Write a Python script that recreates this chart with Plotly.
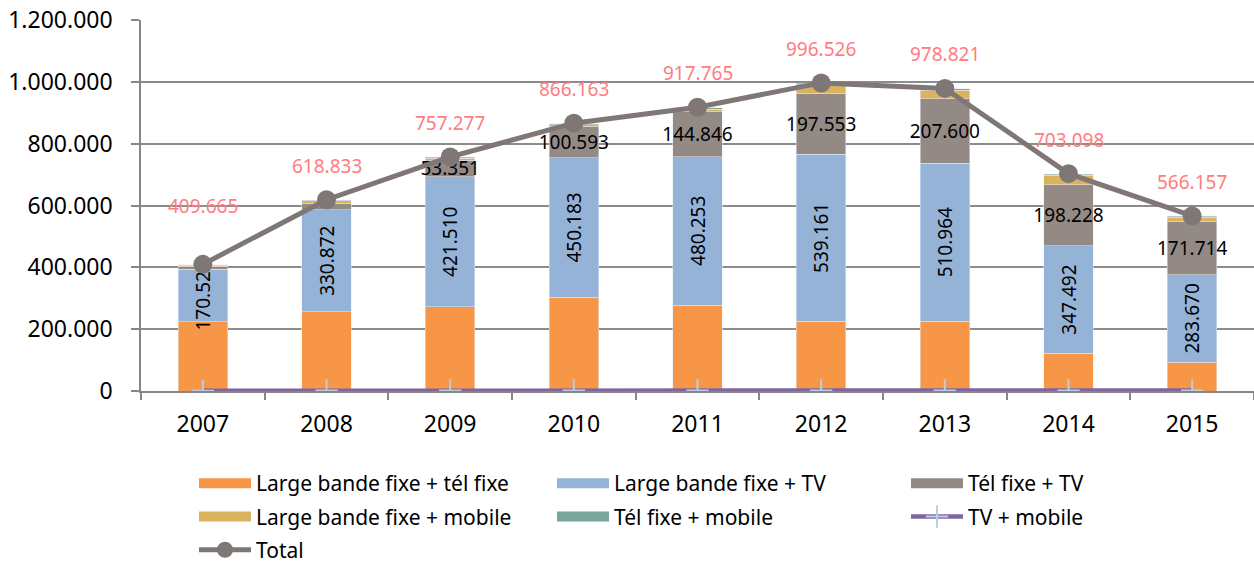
import plotly.graph_objects as go

# Years and stacked series (number of subscriptions per bundle)
years = ["2007", "2008", "2009", "2010", "2011", "2012", "2013", "2014", "2015"]
bb_tel = [224000, 256000, 272000, 304000, 278000, 226000, 226000, 122000, 93000]
bb_tv = [170527, 330872, 421510, 450183, 480253, 539161, 510964, 347492, 283670]
tel_tv = [8000, 19961, 53351, 100593, 144846, 197553, 207600, 198228, 171714]
bb_mobile = [4500, 8000, 6000, 6500, 8000, 28500, 29000, 30000, 14000]
tel_mobile = [1600, 2500, 2900, 3400, 5000, 3700, 3600, 3800, 2200]
tv_mobile = [1000, 1500, 1500, 1500, 1600, 1600, 1600, 1600, 1500]
total = [409665, 618833, 757277, 866163, 917765, 996526, 978821, 703098, 566157]

# Only the larger "Tél fixe + TV" segments carry a label
tel_tv_shown = [False, False, True, True, True, True, True, True, True]


def fmt(v):
    return f"{v:,}".replace(",", ".")


FONT = "Noto Sans"
C_ORANGE = "#F79646"
C_BLUE = "#95B3D7"
C_GREY = "#948A85"
C_GOLD = "#DBB35E"
C_TEAL = "#7AA79B"
C_PURPLE = "#8064A2"
C_TOTAL = "#7F7776"
C_PINK = "#FF7C80"
C_AXIS = "#868686"

fig = go.Figure()

# Wide swatches for the bar series in the legends (legend-only entries)
swatches = [
    ("Large bande fixe + tél fixe", C_ORANGE, "legend", "g1"),
    ("Large bande fixe + mobile", C_GOLD, "legend", "g2"),
    ("Large bande fixe + TV", C_BLUE, "legend2", "g4"),
    ("Tél fixe + mobile", C_TEAL, "legend2", "g5"),
    ("Tél fixe + TV", C_GREY, "legend3", "g6"),
]
for name, col, lg, grp in swatches:
    fig.add_trace(go.Scatter(x=[years[0]], y=[None], mode="lines", name=name,
                             line=dict(color=col, width=15), legend=lg,
                             legendgroup=grp, hoverinfo="skip"))

label_font = dict(family=FONT, size=19, color="black")

fig.add_trace(go.Bar(x=years, y=bb_tel, marker_color=C_ORANGE, showlegend=False,
                     name="Large bande fixe + tél fixe"))
fig.add_trace(go.Bar(x=years, y=bb_tv, marker_color=C_BLUE, showlegend=False,
                     name="Large bande fixe + TV",
                     text=[fmt(v) for v in bb_tv], textposition="inside",
                     insidetextanchor="middle", textangle=-90,
                     constraintext="none", insidetextfont=label_font))
fig.add_trace(go.Bar(x=years, y=tel_tv, marker_color=C_GREY, showlegend=False,
                     name="Tél fixe + TV",
                     text=[fmt(v) if s else "" for v, s in zip(tel_tv, tel_tv_shown)],
                     textposition="inside", insidetextanchor="middle", textangle=0,
                     constraintext="none", insidetextfont=label_font))
fig.add_trace(go.Bar(x=years, y=bb_mobile, marker_color=C_GOLD, showlegend=False,
                     name="Large bande fixe + mobile"))
fig.add_trace(go.Bar(x=years, y=tel_mobile, marker_color=C_TEAL, showlegend=False,
                     name="Tél fixe + mobile"))

fig.add_trace(go.Scatter(x=years, y=tv_mobile, mode="lines+markers", name="TV + mobile",
                         line=dict(color=C_PURPLE, width=4.5),
                         marker=dict(symbol="cross-thin", size=16,
                                     line=dict(color="#B9CDE5", width=2)),
                         legend="legend3", legendgroup="g7"))
fig.add_trace(go.Scatter(x=years, y=total, mode="lines+markers", name="Total",
                         line=dict(color=C_TOTAL, width=5),
                         marker=dict(symbol="circle", size=19, color=C_TOTAL),
                         legend="legend", legendgroup="g3"))

# Total values above the line markers (x given as category index)
label_shift = [58, 34, 34, 34, 34, 34, 34, 34, 34]
for i, (v, sh) in enumerate(zip(total, label_shift)):
    fig.add_annotation(x=i, y=v, xref="x", yref="y", text=fmt(v),
                       showarrow=False, yshift=sh,
                       font=dict(family=FONT, size=19, color=C_PINK))

W, H = 1254, 566
leg_common = dict(orientation="v", xref="container", yref="container",
                  xanchor="left", yanchor="top", itemwidth=52,
                  tracegroupgap=3, bgcolor="rgba(0,0,0,0)",
                  font=dict(family=FONT, size=21, color="black"),
                  traceorder="grouped")

fig.update_layout(
    width=W, height=H,
    margin=dict(l=141, r=0, t=20, b=175, autoexpand=False),
    barmode="stack", bargap=0.6,
    paper_bgcolor="white", plot_bgcolor="white",
    separators=",.",
    font=dict(family=FONT, size=23, color="black"),
    hovermode=False,
    legend=dict(x=194 / W, y=1 - 463 / H, **leg_common),
    legend2=dict(x=552 / W, y=1 - 463 / H, **leg_common),
    legend3=dict(x=906 / W, y=1 - 463 / H, **leg_common),
    xaxis=dict(type="category", categoryorder="array", categoryarray=years,
               tickson="boundaries", ticks="outside", ticklen=7,
               tickcolor=C_AXIS, tickwidth=1.5, showline=True, linecolor=C_AXIS,
               linewidth=1.5, showgrid=False, layer="below traces",
               range=[-0.5, len(years) - 0.5], tickangle=0,
               ticklabelstandoff=12,
               tickfont=dict(family=FONT, size=23, color="black")),
    yaxis=dict(range=[0, 1200000], dtick=200000, tickformat=",d",
               ticks="outside", ticklen=8, tickcolor=C_AXIS, tickwidth=1.5,
               showline=True, linecolor=C_AXIS, linewidth=1.5,
               showgrid=True, gridcolor="#8C8C8C", gridwidth=1.5,
               zeroline=False, layer="below traces", ticklabelstandoff=14,
               tickfont=dict(family=FONT, size=23, color="black")),
)

fig.write_html("out.html")
